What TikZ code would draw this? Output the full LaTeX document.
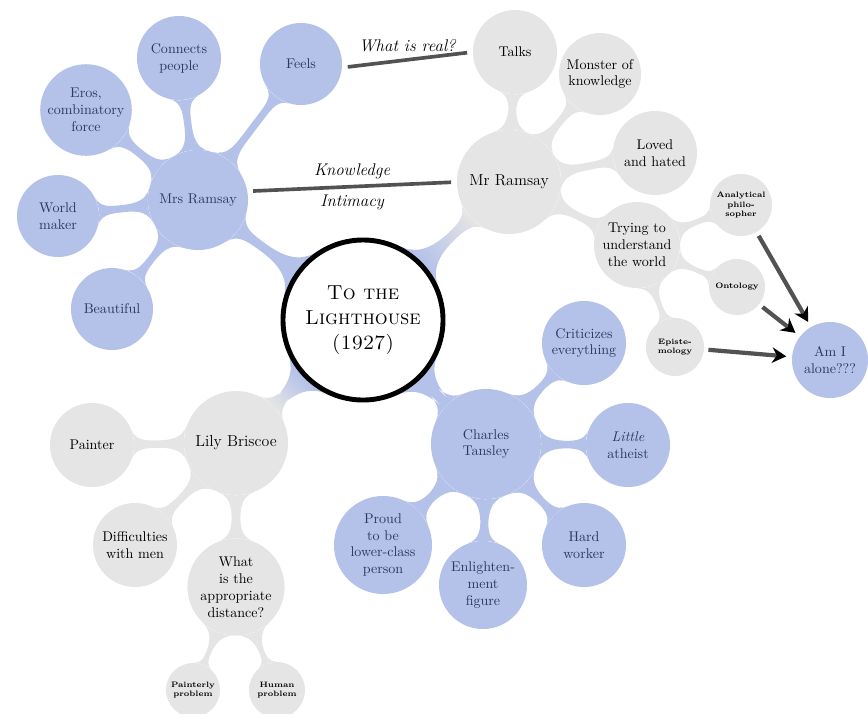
\documentclass[tikz,border=0pt]{standalone}
\usetikzlibrary{mindmap,arrows.meta,backgrounds}
\definecolor{cblue}{RGB}{180,193,233}
\definecolor{cgray}{RGB}{229,229,229}
\definecolor{cink}{RGB}{45,55,95}
\definecolor{cline}{RGB}{82,82,82}

\begin{document}
\begin{tikzpicture}[
  x=0.025cm, y=0.025cm,
  font=\normalsize,
  blob/.style={circle, inner sep=1pt, align=center},
  bl/.style={blob, fill=cblue, text=cink},
  gr/.style={blob, fill=cgray, text=black},
  mini/.style={font=\fontsize{5.6}{6.6}\selectfont\bfseries},
  big/.style={font=\fontsize{11.3}{13.5}\selectfont},
  link/.style={draw=cline, line width=2.6pt, shorten <=4pt, shorten >=4pt},
  ar/.style={draw=cline, line width=3pt, shorten <=3pt, shorten >=4pt,
             -{Stealth[length=10pt, width=11pt, color=black]}},
  lbl/.style={font=\large\itshape},
  bb/.style={circle connection bar switch color=from (cblue) to (cblue)},
  bg/.style={circle connection bar switch color=from (cgray) to (cgray)},
  bs/.style={circle connection bar switch color=from (cblue) to (cgray)},
]
\useasboundingbox (0,-713) rectangle (868,0);

%% ---------- centre ----------
\node[blob, fill=white, draw=black, line width=3.5pt, minimum size=4cm,
      font=\Large\scshape] (c) at (363,-320) {To the\\Lighthouse\\(1927)};

%% ---------- Mrs Ramsay ----------
\node[bl, minimum size=2.5cm] (mrs) at (198,-200) {Mrs Ramsay};
\node[bl, minimum size=2.05cm] (feels) at (301,-64) {Feels};
\node[bl, minimum size=2.1cm] (conn) at (179,-58) {Connects\\people};
\node[bl, minimum size=2.1cm] (eros) at (86,-110) {Eros,\\combinatory\\force};
\node[bl, minimum size=2.05cm] (world) at (58,-216) {World\\maker};
\node[bl, minimum size=2.05cm] (beau) at (112,-309) {Beautiful};

%% ---------- Mr Ramsay ----------
\node[gr, big, minimum size=2.6cm] (mr) at (509,-182) {Mr Ramsay};
\node[gr, minimum size=2.1cm] (talks) at (515,-52) {Talks};
\node[gr, minimum size=2.05cm] (monster) at (600,-74) {Monster of\\knowledge};
\node[gr, minimum size=2.1cm] (loved) at (655,-153) {Loved\\and hated};
\node[gr, minimum size=2.15cm] (trying) at (637,-245) {Trying to\\understand\\the world};
\node[gr, mini, minimum size=1.55cm] (ana) at (741,-205) {Analytical\\philo-\\sopher};
\node[gr, mini, minimum size=1.4cm] (onto) at (737,-287) {Ontology};
\node[gr, mini, minimum size=1.45cm] (epi) at (675,-347) {Episte-\\mology};
\node[bl, minimum size=1.9cm] (alone) at (830,-360) {Am I\\alone???};

%% ---------- Lily Briscoe ----------
\node[gr, big, minimum size=2.6cm] (lily) at (236,-443) {Lily Briscoe};
\node[gr, minimum size=2.1cm] (painter) at (92,-445) {Painter};
\node[gr, minimum size=2.1cm] (diff) at (135,-545) {Difficulties\\with men};
\node[gr, minimum size=2.4cm] (dist) at (236,-587) {What\\is the\\appropriate\\distance?};
\node[gr, mini, minimum size=1.35cm] (ptly) at (193,-690) {Painterly\\problem};
\node[gr, mini, minimum size=1.4cm] (human) at (277,-690) {Human\\problem};

%% ---------- Charles Tansley ----------
\node[bl, minimum size=2.75cm] (ct) at (486,-444) {Charles\\Tansley};
\node[bl, minimum size=2.1cm] (crit) at (584,-343) {Criticizes\\everything};
\node[bl, minimum size=2.1cm] (little) at (628,-445) {\emph{Little}\\atheist};
\node[bl, minimum size=2.1cm] (hard) at (584,-545) {Hard\\worker};
\node[bl, minimum size=2.2cm] (enl) at (483,-585) {Enlighten-\\ment\\figure};
\node[bl, minimum size=2.45cm] (proud) at (383,-545) {Proud\\to be\\lower-class\\person};

%% ---------- bars ----------
\begin{scope}[on background layer]
  \path (c) to[bb] (mrs);
  \path (c) to[bs] (mr);
  \path (c) to[bs] (lily);
  \path (c) to[bb] (ct);
  \foreach \k in {feels,conn,eros,world,beau}
    \path (mrs) to[bb] (\k);
  \foreach \k in {talks,monster,loved,trying}
    \path (mr) to[bg] (\k);
  \foreach \k in {ana,onto,epi}
    \path (trying) to[bg] (\k);
  \foreach \k in {painter,diff,dist}
    \path (lily) to[bg] (\k);
  \foreach \k in {ptly,human}
    \path (dist) to[bg] (\k);
  \foreach \k in {crit,little,hard,enl,proud}
    \path (ct) to[bb] (\k);
\end{scope}

%% ---------- cross links ----------
\draw[link] (feels.-5) -- node[lbl, above=1pt] {What is real?} (talks.west);
\draw[link] (mrs.10) -- node[lbl, above=1pt] {Knowledge}
  node[lbl, below=1pt] {Intimacy} (mr.west);

\draw[ar] (ana) -- (alone);
\draw[ar] (onto) -- (alone);
\draw[ar] (epi) -- (alone);

\end{tikzpicture}
\end{document}
